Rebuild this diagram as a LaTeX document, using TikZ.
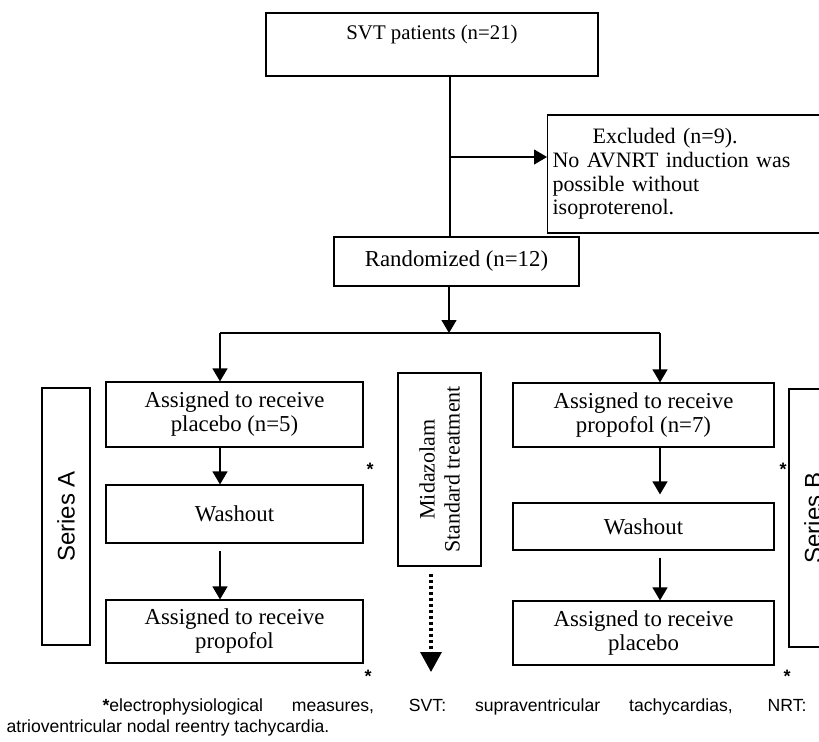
\documentclass[tikz,border=0pt]{standalone}
\usepackage{fontspec}
\setmainfont{Liberation Serif}
\setsansfont{Liberation Sans}
\usetikzlibrary{arrows.meta}
\begin{document}
\begin{tikzpicture}[x=0.5pt, y=-0.5pt, line width=0.6pt,
  every node/.style={font=\fontsize{11.4}{12}\selectfont},
  box/.style={draw, line width=0.6pt, align=center, inner sep=2pt},
  serbox/.style={box, rotate=90, font=\sffamily\fontsize{12}{13}\selectfont},
  arr/.style={-{Triangle[width=7.5pt,length=6.5pt]}},
  dotarr/.style={line width=1.6pt, dash pattern=on 1.6pt off 1.4pt, -{Triangle[width=10.5pt,length=10pt]}},
  stars/.style={font=\sffamily\bfseries\fontsize{9}{9}\selectfont, inner sep=0pt}]
\useasboundingbox (0,0) rectangle (819,741);
\clip (0,0) rectangle (819,741);
\node[box, minimum width=166pt, minimum height=31.5pt, font=\fontsize{10.4}{12}\selectfont] (svt) at (432,44.5) {SVT patients (n=21)\\ ~};
\node[box, align=left, text width=150pt, inner xsep=2.5pt, minimum height=59pt, anchor=west, font=\fontsize{11}{11.8}\selectfont] (excl) at (547,174) {\hspace*{20pt}Excluded (n=9).\\No AVNRT induction was\\possible without\\isoproterenol.};
\node[box, minimum width=122.5pt, minimum height=24.5pt] (rand) at (456.5,261.5) {Randomized (n=12)};
\node[box, minimum width=128.5pt, minimum height=32.5pt] (pla1) at (234.5,414.5) {Assigned to receive\\placebo (n=5)};
\node[box, minimum width=128.5pt, minimum height=29pt] (wash1) at (234.5,514) {Washout};
\node[box, minimum width=128.5pt, minimum height=31.5pt] (pro1) at (234.5,631.5) {Assigned to receive\\propofol};
\node[box, minimum width=130.5pt, minimum height=32pt] (pro2) at (643.5,415) {Assigned to receive\\propofol (n=7)};
\node[box, minimum width=130.5pt, minimum height=23.5pt] (wash2) at (643.5,526.5) {Washout};
\node[box, minimum width=130.5pt, minimum height=32pt] (pla2) at (643.5,633) {Assigned to receive\\placebo};
\node[serbox, minimum width=128.5pt, minimum height=24pt] (serA) at (66,516.5) {Series A};
\node[serbox, minimum width=129pt, minimum height=24pt] (serB) at (813,518) {Series B};
\node[box, rotate=90, minimum width=96.5pt, minimum height=41.5pt, font=\fontsize{11}{12.5}\selectfont] (mida) at (439.5,469.5) {Midazolam\\Standard treatment};
\coordinate (split) at (450,157);
\coordinate (fork) at (449,333);
\coordinate (colA) at (220,333);
\coordinate (colB) at (660,333);
\coordinate (midaend) at (431,672);
\draw (svt.south -| split) -- (split) -- (split |- rand.north);
\draw[arr] (split) -- (split -| excl.west);
\draw[arr] (fork |- rand.south) -- (fork);
\draw (colA) -- (colB);
\draw[arr] (colA) -- (colA |- pla1.north);
\draw[arr] (colB) -- (colB |- pro2.north);
\draw[arr] (colA |- pla1.south) -- (colA |- wash1.north);
\draw[arr, shorten <=3.5pt] (colA |- wash1.south) -- (colA |- pro1.north);
\draw[arr, shorten >=4pt] (colB |- pro2.south) -- (colB |- wash2.north);
\draw[arr, shorten <=3.5pt] (colB |- wash2.south) -- (colB |- pla2.north);
\draw[dotarr, shorten <=3.5pt] (mida.west -| midaend) -- (midaend);
\node[stars] (st1) at (370,469) {*};
\node[stars] (st2) at (368,676) {*};
\node[stars] (st3) at (783,469) {*};
\node[stars] (st4) at (787,676) {*};
\node[anchor=north west, inner sep=0pt, text width=400pt, align=justify, font=\sffamily\fontsize{8.8}{10.5}\selectfont] (note) at (6,698) {\hspace*{48pt}{\bfseries*}electrophysiological measures, SVT: supraventricular tachycardias, NRT:\linebreak atrioventricular nodal reentry tachycardia.};
\end{tikzpicture}
\end{document}
